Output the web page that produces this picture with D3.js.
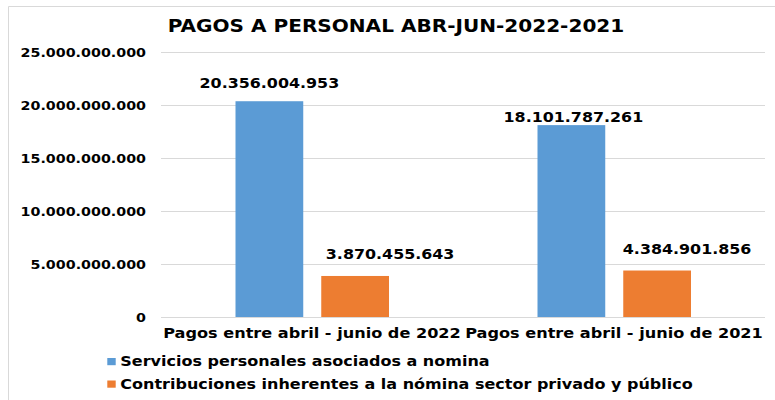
<!DOCTYPE html>
<html>
<head>
<meta charset="utf-8">
<script src="https://cdn.jsdelivr.net/npm/d3@7"></script>
<style>
    body { margin: 0; background: #fff; }
    svg text { font-family: "DejaVu Sans", Verdana, sans-serif; font-weight: bold; fill: #000; }
</style>
</head>
<body>
<div id="chart"></div>
<script>
// Chart data
const categories = ['Pagos entre abril - junio de 2022', 'Pagos entre abril - junio de 2021'];
const seriesNames = [
    'Servicios personales asociados a nomina',
    'Contribuciones inherentes a la nómina sector privado y público'
];
const serviciosValues = [20356004953, 18101787261];
const contribucionesValues = [3870455643, 4384901856];
const yTicks = [0, 5000000000, 10000000000, 15000000000, 20000000000, 25000000000];
const title = 'PAGOS A PERSONAL ABR-JUN-2022-2021';

const colors = ['#5b9bd5', '#ed7d31'];

// the original picture is stretched horizontally, so draw in narrower units
const K = 1.16;
const W = 775, H = 400;
const sx = v => v / K;

const locale = d3.formatLocale({ decimal: ',', thousands: '.', grouping: [3], currency: ['$', ''] });
const fmt = locale.format(',d');

const svg = d3.select('#chart')
    .append('svg')
    .attr('width', W)
    .attr('height', H)
    .attr('viewBox', `0 0 ${sx(W)} ${H}`)
    .attr('preserveAspectRatio', 'none');

// outer frame
svg.append('rect')
    .attr('x', sx(8.5))
    .attr('y', 6.5)
    .attr('width', sx(W))
    .attr('height', H)
    .attr('fill', 'none')
    .attr('stroke', '#d9d9d9')
    .attr('stroke-width', 1)
    .attr('vector-effect', 'non-scaling-stroke');

const x0 = d3.scaleBand()
    .domain(categories)
    .range([sx(161), sx(765)]);

const x1 = d3.scaleBand()
    .domain(seriesNames)
    .range([sx(74.5), sx(228)])
    .paddingInner(0.21);

const y = d3.scaleLinear()
    .domain([0, 25000000000])
    .range([317, 52]);

// gridlines + y labels
const yAxis = svg.append('g')
    .attr('transform', `translate(${sx(161)},0)`)
    .call(d3.axisLeft(y).tickValues(yTicks).tickSize(-(sx(765) - sx(161))).tickPadding(sx(15)).tickFormat(fmt));
yAxis.select('.domain').remove();
yAxis.selectAll('.tick line')
    .attr('stroke', '#d9d9d9')
    .attr('vector-effect', 'non-scaling-stroke');
yAxis.selectAll('.tick text')
    .attr('font-size', 12.3)
    .attr('dy', '0.36em');

// bars
const rows = categories.map((c, i) => ({
    category: c,
    values: [serviciosValues[i], contribucionesValues[i]]
}));

// manual label nudges (Excel labels were dragged): [dx px, dy px] from bar top center
const labelNudge = [
    [[0, -13], [35, -17]],
    [[2, -3.5], [30, -17]]
];

const groups = svg.selectAll('.cat')
    .data(rows)
    .enter()
    .append('g')
    .attr('class', 'cat')
    .attr('transform', d => `translate(${x0(d.category)},0)`);

groups.selectAll('rect')
    .data(d => d.values.map((v, j) => ({ name: seriesNames[j], value: v, j })))
    .enter()
    .append('rect')
    .attr('x', d => x1(d.name))
    .attr('y', d => y(d.value))
    .attr('width', x1.bandwidth())
    .attr('height', d => y(0) - y(d.value))
    .attr('fill', d => colors[d.j]);

groups.each(function (d, i) {
    d3.select(this).selectAll('text.val')
        .data(d.values.map((v, j) => ({ name: seriesNames[j], value: v, j })))
        .enter()
        .append('text')
        .attr('class', 'val')
        .attr('x', e => x1(e.name) + x1.bandwidth() / 2 + sx(labelNudge[i][e.j][0]))
        .attr('y', e => y(e.value) + labelNudge[i][e.j][1])
        .attr('text-anchor', 'middle')
        .attr('font-size', 13.7)
        .text(e => fmt(e.value));
});

// category labels
svg.selectAll('.catlabel')
    .data(categories)
    .enter()
    .append('text')
    .attr('class', 'catlabel')
    .attr('x', d => x0(d) + x0.bandwidth() / 2)
    .attr('y', 338)
    .attr('text-anchor', 'middle')
    .attr('font-size', 13.9)
    .text(d => d);

// title
svg.append('text')
    .attr('x', sx(396))
    .attr('y', 32.5)
    .attr('text-anchor', 'middle')
    .attr('font-size', 17.3)
    .text(title);

// legend
const legend = svg.selectAll('.legend')
    .data(seriesNames)
    .enter()
    .append('g')
    .attr('class', 'legend')
    .attr('transform', (d, i) => `translate(${sx(107.3)},${358 + i * 22.5})`);

legend.append('rect')
    .attr('width', sx(8.4))
    .attr('height', 7.2)
    .attr('fill', (d, i) => colors[i]);

legend.append('text')
    .attr('x', sx(13))
    .attr('y', 8)
    .attr('font-size', 13.8)
    .text(d => d);
</script>
</body>
</html>
